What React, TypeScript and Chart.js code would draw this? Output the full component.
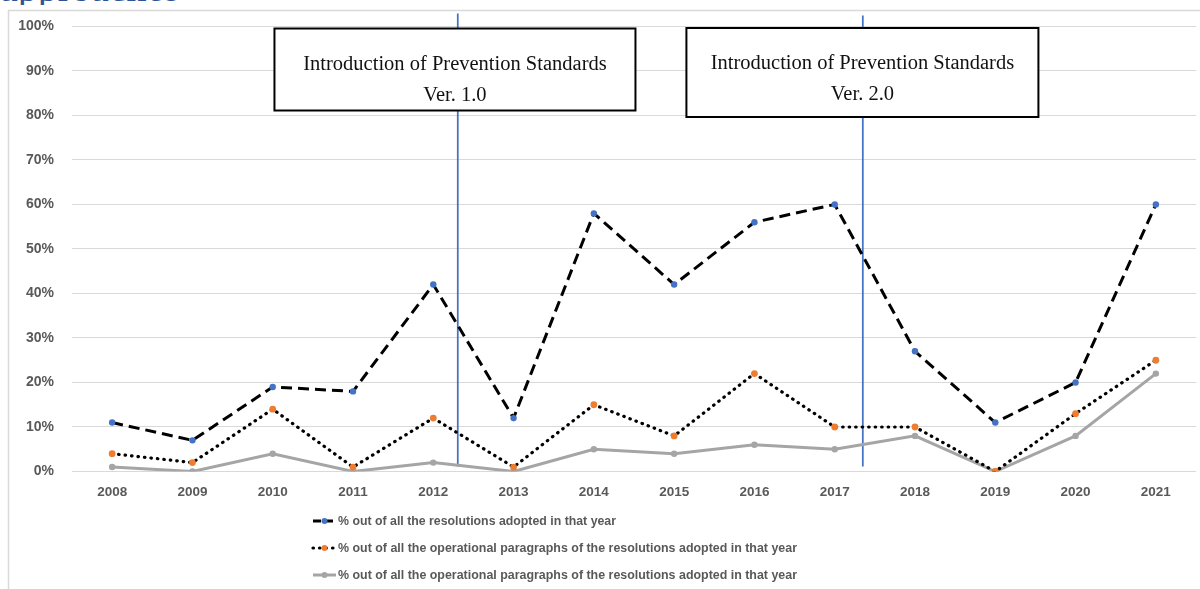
import React, { useEffect, useRef } from "react";
import { Chart, registerables } from "chart.js";

Chart.register(...registerables);

// ---------- data ----------
const years = ["2008", "2009", "2010", "2011", "2012", "2013", "2014", "2015", "2016", "2017", "2018", "2019", "2020", "2021"];
const resolutionsPct = [11, 7, 19, 18, 42, 12, 58, 42, 56, 60, 27, 11, 20, 60];
const operationalPct = [4, 2, 14, 1, 12, 1, 15, 8, 22, 10, 10, 0, 13, 25];
const operationalPct2 = [1, 0, 4, 0, 2, 0, 5, 4, 6, 5, 8, 0, 8, 22];
const seriesLabels = [
  "% out of all the resolutions adopted in that year",
  "% out of all the operational paragraphs of the resolutions adopted in that year",
  "% out of all the operational paragraphs of the resolutions adopted in that year",
];
const yTickValues = [0, 10, 20, 30, 40, 50, 60, 70, 80, 90, 100];
// milestones: position on the category axis (fractional index)
const milestoneLinePos = [4.305, 9.35];
const milestoneBoxPos = [4.27, 9.345];
const milestoneTexts = [
  ["Introduction of Prevention Standards", "Ver. 1.0"],
  ["Introduction of Prevention Standards", "Ver. 2.0"],
];
const headingText = "approaches";

// ---------- styles ----------
const TICK_COLOR = "#595959";
const GRID_COLOR = "#D9D9D9";
const BLUE = "#4472C4";
const ORANGE = "#ED7D31";
const GRAY = "#A5A5A5";
const boxStyles = [
  { width: 361, top: 28.5, height: 82, base1: 70, base2: 101 },
  { width: 352, top: 28, height: 89, base1: 69, base2: 99.5 },
];
const legendRowsY = [521, 548, 575];
const legendTextWidth = [278, 459, 459];

const decorPlugin = {
  id: "decor",
  beforeDraw(chart: any) {
    const ctx = chart.ctx;
    ctx.save();
    ctx.strokeStyle = GRID_COLOR;
    ctx.lineWidth = 1.5;
    ctx.beginPath();
    ctx.moveTo(1200, 10.5);
    ctx.lineTo(8.5, 10.5);
    ctx.lineTo(8.5, 589);
    ctx.stroke();
    ctx.restore();
  },
  beforeDatasetsDraw(chart: any) {
    const ctx = chart.ctx;
    const xs = chart.scales.x;
    const area = chart.chartArea;
    ctx.save();
    ctx.strokeStyle = BLUE;
    ctx.lineWidth = 1.75;
    milestoneLinePos.forEach((p, i) => {
      const x = xs.getPixelForValue(p);
      ctx.beginPath();
      ctx.moveTo(x, area.top - 13 + i * 2);
      ctx.lineTo(x, area.bottom - 5);
      ctx.stroke();
    });
    ctx.restore();
  },
  afterDatasetsDraw(chart: any) {
    const ctx = chart.ctx;
    const xs = chart.scales.x;
    ctx.save();
    milestoneBoxPos.forEach((p, i) => {
      const cx = xs.getPixelForValue(p);
      const st = boxStyles[i];
      const left = cx - st.width / 2;
      ctx.fillStyle = "#ffffff";
      ctx.fillRect(left, st.top, st.width, st.height);
      ctx.strokeStyle = "#000000";
      ctx.lineWidth = 2;
      ctx.strokeRect(left, st.top, st.width, st.height);
      ctx.fillStyle = "#111111";
      ctx.font = "20.5px 'Liberation Serif', 'Times New Roman', serif";
      ctx.textAlign = "center";
      ctx.textBaseline = "alphabetic";
      ctx.fillText(milestoneTexts[i][0], cx, st.base1);
      ctx.fillText(milestoneTexts[i][1], cx, st.base2);
    });
    ctx.restore();
  },
  afterDraw(chart: any) {
    const ctx = chart.ctx;
    const x0 = 313;
    const x1 = 336;
    ctx.save();
    chart.data.datasets.forEach((ds: any, i: number) => {
      const y = legendRowsY[i];
      ctx.save();
      ctx.strokeStyle = ds.borderColor;
      ctx.lineWidth = ds.borderWidth;
      ctx.lineCap = ds.borderCapStyle || "butt";
      ctx.setLineDash(ds.legendDash || ds.borderDash || []);
      ctx.beginPath();
      ctx.moveTo(x0, y);
      ctx.lineTo(x1, y);
      ctx.stroke();
      ctx.restore();
      ctx.fillStyle = ds.pointBackgroundColor;
      ctx.beginPath();
      ctx.arc((x0 + x1) / 2, y, 3, 0, Math.PI * 2);
      ctx.fill();
      ctx.save();
      ctx.fillStyle = TICK_COLOR;
      ctx.font = "bold 13.5px 'Liberation Sans', Arial, sans-serif";
      ctx.textAlign = "left";
      ctx.textBaseline = "middle";
      const w = ctx.measureText(ds.label).width;
      const sx = w > 0 ? legendTextWidth[i] / w : 1;
      ctx.translate(x1 + 2, y);
      ctx.scale(sx, 1);
      ctx.fillText(ds.label, 0, 0);
      ctx.restore();
    });
    ctx.restore();
  },
};

export default function App() {
  const canvasRef = useRef<HTMLCanvasElement | null>(null);

  useEffect(() => {
    if (!canvasRef.current) return;
    const chart = new Chart(canvasRef.current, {
      type: "line",
      data: {
        labels: years,
        datasets: [
          {
            label: seriesLabels[0],
            data: resolutionsPct,
            borderColor: "#000000",
            borderWidth: 3,
            borderDash: [11, 6],
            legendDash: [8, 4],
            pointBackgroundColor: BLUE,
            pointBorderColor: BLUE,
            pointRadius: 3.2,
            pointBorderWidth: 0,
            tension: 0,
          },
          {
            label: seriesLabels[1],
            data: operationalPct,
            borderColor: "#000000",
            borderWidth: 3.2,
            borderDash: [0.5, 6],
            borderCapStyle: "round",
            pointBackgroundColor: ORANGE,
            pointBorderColor: ORANGE,
            pointRadius: 3.4,
            pointBorderWidth: 0,
            tension: 0,
          },
          {
            label: seriesLabels[2],
            data: operationalPct2,
            borderColor: GRAY,
            borderWidth: 3,
            pointBackgroundColor: GRAY,
            pointBorderColor: GRAY,
            pointRadius: 3.2,
            pointBorderWidth: 0,
            tension: 0,
          },
        ],
      } as any,
      options: {
        animation: false,
        responsive: false,
        maintainAspectRatio: false,
        layout: { padding: { top: 25, left: 0, right: 0, bottom: 87.5 } },
        plugins: {
          legend: { display: false },
          tooltip: { enabled: false },
        },
        scales: {
          x: {
            type: "category",
            offset: true,
            grid: { display: false, drawTicks: false },
            border: { display: false },
            ticks: {
              color: TICK_COLOR,
              font: { family: "'Liberation Sans', Arial, sans-serif", size: 13.5, weight: "bold" },
              padding: 13,
              autoSkip: false,
              maxRotation: 0,
            },
            afterFit: (s: any) => {
              s.height = 30;
            },
          },
          y: {
            min: 0,
            max: 100,
            grid: { color: GRID_COLOR, lineWidth: 1, drawTicks: false },
            border: { display: false },
            afterBuildTicks: (s: any) => {
              s.ticks = yTickValues.map((v) => ({ value: v }));
            },
            ticks: {
              color: TICK_COLOR,
              font: { family: "'Liberation Sans', Arial, sans-serif", size: 14, weight: "bold" },
              padding: 18,
              callback: (v: any) => v + "%",
            },
            afterFit: (s: any) => {
              s.width = 72;
            },
          },
        },
      } as any,
      plugins: [decorPlugin],
    });
    return () => chart.destroy();
  }, []);

  return (
    <div style={{ position: "absolute", left: 0, top: 0, width: 1200, height: 589, background: "#fff", overflow: "hidden" }}>
      <div style={{ position: "absolute", left: 0, top: 0, width: 400, height: 5, overflow: "hidden" }}>
        <div
          style={{
            position: "absolute",
            left: 0,
            top: -32.5,
            fontFamily: "'Liberation Serif', 'Times New Roman', serif",
            fontSize: 40,
            lineHeight: "40px",
            color: "#2F5496",
            whiteSpace: "nowrap",
          }}
        >
          {headingText}
        </div>
      </div>
      <canvas ref={canvasRef} width={1200} height={589} style={{ position: "absolute", left: 0, top: 0, width: 1200, height: 589 }} />
    </div>
  );
}
